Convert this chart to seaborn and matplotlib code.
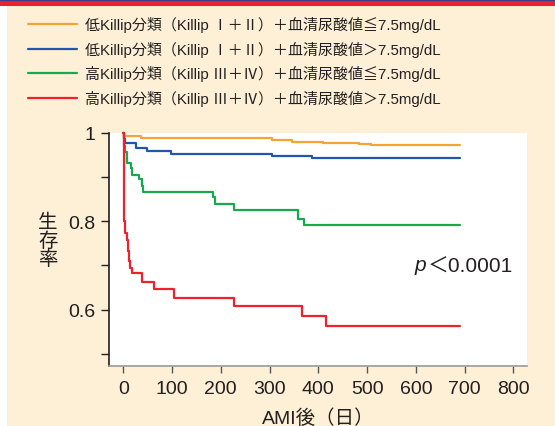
import matplotlib
matplotlib.use("Agg")
import matplotlib.pyplot as plt
import seaborn as sns
import pandas as pd
from matplotlib.patches import Rectangle

# Kaplan-Meier style survival curves
orange_days = [0, 2, 36, 304, 347, 409, 484, 509, 691]
orange_surv = [1.0, 0.9925, 0.988, 0.984, 0.980, 0.978, 0.976, 0.9735, 0.9735]

blue_days = [0, 1, 3, 26, 48, 98, 304, 387, 691]
blue_surv = [1.0, 0.986, 0.977, 0.967, 0.960, 0.952, 0.949, 0.9425, 0.9425]

green_days = [0, 1, 3.5, 7, 15, 18, 33, 38, 40, 185, 188, 227, 359, 371, 691]
green_surv = [1.0, 0.971, 0.956, 0.933, 0.920, 0.905, 0.895, 0.880, 0.867,
              0.854, 0.839, 0.825, 0.806, 0.791, 0.791]

red_days = [0, 1, 2, 3, 7, 9, 11, 13, 17, 39, 62, 104, 228, 367, 416, 690]
red_surv = [1.0, 0.875, 0.80, 0.773, 0.757, 0.732, 0.71, 0.695, 0.682,
            0.663, 0.646, 0.627, 0.608, 0.586, 0.562, 0.562]

group_names = ["lowA", "lowB", "highA", "highB"]
colors = ["#f7a234", "#2256a8", "#1aa84f", "#f0202c"]
legend_left = ["低Killip分類（Killip Ⅰ＋Ⅱ）", "低Killip分類（Killip Ⅰ＋Ⅱ）",
               "高Killip分類（Killip Ⅲ＋Ⅳ）", "高Killip分類（Killip Ⅲ＋Ⅳ）"]
legend_right = ["＋血清尿酸値≦7.5mg/dL", "＋血清尿酸値＞7.5mg/dL",
                "＋血清尿酸値≦7.5mg/dL", "＋血清尿酸値＞7.5mg/dL"]

x_ticks = [0, 100, 200, 300, 400, 500, 600, 700, 800]
y_ticks = [0.5, 0.6, 0.7, 0.8, 0.9, 1.0]
y_tick_labels = ["", "0.6", "", "0.8", "", "1"]

frames = []
for name, d, s in zip(group_names,
                      [orange_days, blue_days, green_days, red_days],
                      [orange_surv, blue_surv, green_surv, red_surv]):
    frames.append(pd.DataFrame({"day": d, "surv": s, "group": name}))
df = pd.concat(frames, ignore_index=True)

sns.set_style("ticks")
plt.rcParams["font.family"] = ["Liberation Sans", "Noto Sans CJK JP", "DejaVu Sans"]

bg = "#fef0d6"
fig = plt.figure(figsize=(5.55, 4.27), dpi=100, facecolor=bg)
W, H = 555, 427

# decorative strips: white left edge, blue+red top band
fig.add_artist(Rectangle((0, 0), 7 / W, 1, transform=fig.transFigure,
                         facecolor="white", edgecolor="none", zorder=0))
fig.add_artist(Rectangle((0, 1 - 7 / H), 1, 5 / H, transform=fig.transFigure,
                         facecolor="#ec1f2d", edgecolor="none", zorder=1))
fig.add_artist(Rectangle((0, 1 - 2 / H), 1, 2 / H, transform=fig.transFigure,
                         facecolor="#3b3a8e", edgecolor="none", zorder=1))

ax = fig.add_axes([109 / W, 1 - 367 / H, (527 - 109) / W, (367 - 134) / H])
ax.set_facecolor("white")

sns.lineplot(data=df, x="day", y="surv", hue="group", hue_order=group_names,
             palette=colors, estimator=None, sort=False, drawstyle="steps-post",
             linewidth=1.6, legend=False, ax=ax)
for ln in ax.lines:
    ln.set_clip_on(False)

ax.set_xlim(-29.3, 828)
ax.set_ylim(0.472, 1.0)
ax.set_xticks(x_ticks)
ax.set_xticklabels([str(t) for t in x_ticks], fontsize=14, color="#231f20")
ax.set_yticks(y_ticks)
ax.set_yticklabels(y_tick_labels, fontsize=14, color="#231f20")
ax.tick_params(axis="y", length=6, width=1, color="#231f20", pad=4)
ax.tick_params(axis="x", length=5, width=1, color="#555555", pad=5)
ax.set_xlabel("AMI後（日）", fontsize=14, color="#231f20", labelpad=8)
ax.set_ylabel("")

ax.spines["top"].set_visible(False)
ax.spines["right"].set_visible(False)
ax.spines["left"].set_color("#231f20")
ax.spines["left"].set_linewidth(1.2)
ax.spines["bottom"].set_color("#9a9a9a")
ax.spines["bottom"].set_linewidth(1.2)

fig.text(48 / W, 1 - 242 / H, "生\n存\n率", fontsize=14, color="#231f20",
         ha="center", va="center", linespacing=1.0)

ax.text(598, 0.703, "p", fontsize=15, style="italic", color="#231f20",
        family="Liberation Sans", ha="left", va="center")
ax.text(624, 0.699, "＜0.0001", fontsize=15, color="#231f20",
        ha="left", va="center")

# legend drawn by hand so the two text columns line up
rows_y = [25, 50, 74, 99]
renderer = fig.canvas.get_renderer()
left_texts = []
for c, left, ry in zip(colors, legend_left, rows_y):
    yf = 1 - ry / H
    fig.add_artist(plt.Line2D([28 / W, 77 / W], [yf, yf], color=c, lw=1.6,
                              transform=fig.transFigure))
    left_texts.append(fig.text(85 / W, yf, left, fontsize=10.8, color="#231f20",
                               va="center", ha="left"))
right_x = max(t.get_window_extent(renderer).x1 for t in left_texts) / W
for right, ry in zip(legend_right, rows_y):
    fig.text(right_x, 1 - ry / H, right, fontsize=10.8, color="#231f20",
             va="center", ha="left")

fig.savefig("out.png", dpi=100, facecolor=bg)
